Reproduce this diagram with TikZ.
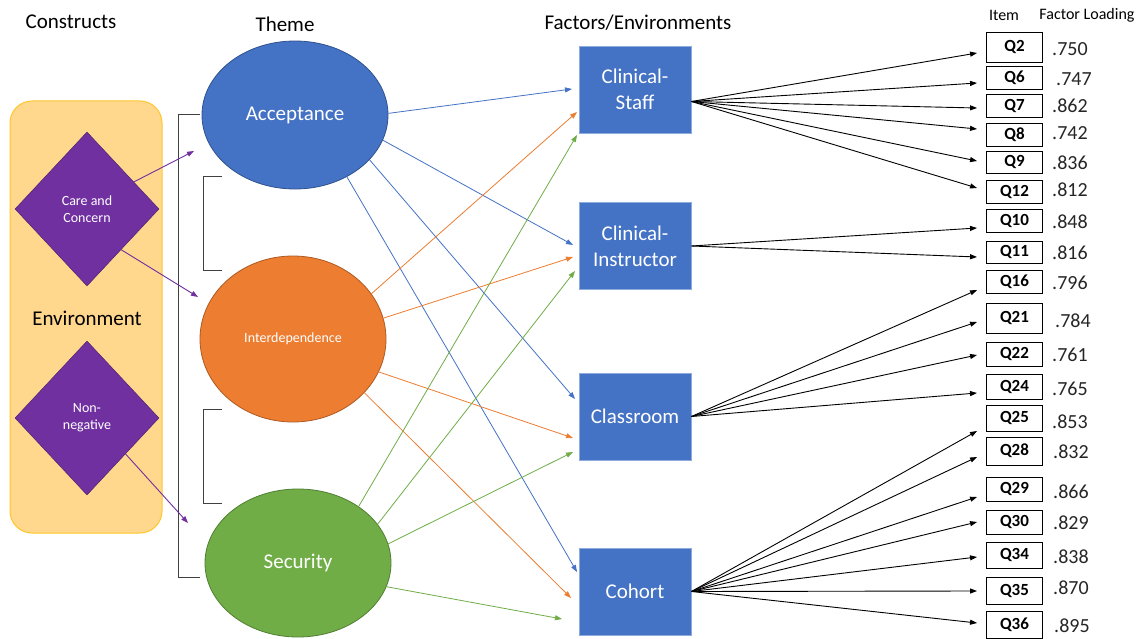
\documentclass[tikz,border=0pt]{standalone}
\usepackage{fontspec}
\setmainfont{Carlito}
\usetikzlibrary{shapes.geometric,arrows.meta,calc}
\definecolor{accblue}{HTML}{4472C4}
\definecolor{accblueD}{HTML}{2F528F}
\definecolor{boxedge}{HTML}{8FAADC}
\definecolor{accorange}{HTML}{ED7D31}
\definecolor{accorangeD}{HTML}{AE5A21}
\definecolor{accgreen}{HTML}{70AD47}
\definecolor{accgreenD}{HTML}{507E32}
\definecolor{cpurple}{HTML}{7030A0}
\definecolor{envfill}{HTML}{FFD88E}
\definecolor{envedge}{HTML}{FFC62A}
\definecolor{brk}{HTML}{404040}
\begin{document}
\begin{tikzpicture}[x=1pt,y=-1pt,
  >={Triangle[length=7pt,width=5pt]},
  heading/.style={inner sep=0, font=\fontsize{21}{25}\selectfont},
  theme/.style={ellipse, line width=0.8pt, text=white, minimum width=186, inner sep=0},
  factor/.style={rectangle, fill=accblue, draw=boxedge, line width=0.8pt, text=white, minimum width=112, minimum height=87, align=center, font=\fontsize{21}{26}\selectfont},
  construct/.style={diamond, aspect=1, fill=cpurple, draw=cpurple!70!black, line width=0.5pt, text=white, minimum width=144, minimum height=154, inner sep=0, align=center, font=\fontsize{14}{17}\selectfont},
  itembox/.style={rectangle, draw=black, line width=0.9pt, minimum width=56, inner sep=0, font=\bfseries\fontsize{17}{17}\selectfont},
  loading/.style={anchor=west, inner sep=0, font=\fontsize{20}{20}\selectfont, text=black!85},
  barrow/.style={->, accblue, line width=0.8pt},
  oarrow/.style={->, accorange, line width=0.8pt},
  garrow/.style={->, accgreen, line width=0.8pt},
  parrow/.style={->, cpurple, line width=0.9pt},
  karrow/.style={->, black, line width=0.9pt},
  bracket/.style={draw=brk, line width=0.9pt}
]
\useasboundingbox[fill=white] (0,0) rectangle (1146,639);

% headings
\node[heading] (hcon) at (71,22) {Constructs};
\node[heading] (hthe) at (285,24) {Theme};
\node[heading] (hfac) at (638,23) {Factors/Environments};
\node[inner sep=0, font=\fontsize{16}{16}\selectfont] (hitem) at (1004,15) {Item};
\node[inner sep=0, font=\fontsize{16}{16}\selectfont] (hfl) at (1087,15) {Factor Loading};

% environment panel
\node[draw=envedge, fill=envfill, line width=1pt, rounded corners=22pt, minimum width=152, minimum height=432] (env) at (86,317) {};
\node[heading] (envt) at (87,318) {Environment};
\node[construct] (care) at (87,209) {Care and\\Concern};
\node[construct] (nonneg) at (87,418) {Non-\\negative};

% brackets
\draw[bracket] (200,114) -- (178,114) -- (178,577) -- (200,577);
\draw[bracket] (222,176) -- (203,176) -- (203,270) -- (222,270);
\draw[bracket] (222,409) -- (203,409) -- (203,503) -- (222,503);

% themes
\node[theme, fill=accblue, draw=accblueD, minimum height=148, font=\fontsize{21}{25}\selectfont] (acc) at (295,115) {Acceptance};
\node[theme, fill=accorange, draw=accorangeD, minimum height=166, font=\fontsize{14}{17}\selectfont] (inter) at (293,339) {Interdependence};
\node[theme, fill=accgreen, draw=accgreenD, minimum height=148, font=\fontsize{21}{25}\selectfont] (sec) at (298,563) {Security};

% factors
\node[factor] (cs) at (635,89.5) {Clinical-\\Staff};
\node[factor] (ci) at (635,246) {Clinical-\\Instructor};
\node[factor] (cl) at (635,416.5) {Classroom};
\node[factor] (co) at (635,591.5) {Cohort};

% purple arrows
\coordinate (pe1) at (194,151);
\coordinate (pe2) at (198,297);
\coordinate (pe3) at (188,523);
\draw[parrow] (care.30) -- (pe1);
\draw[parrow] (care.-50) -- (pe2);
\draw[parrow] (nonneg.-43) -- (pe3);

% arrow end points near factors
\coordinate (csA) at (572,89);  \coordinate (csI) at (577,112); \coordinate (csS) at (577,135);
\coordinate (ciA) at (573,245); \coordinate (ciI) at (573,257); \coordinate (ciS) at (575,271);
\coordinate (clA) at (575,399); \coordinate (clI) at (573,438); \coordinate (clS) at (573,452);
\coordinate (coA) at (577,572); \coordinate (coI) at (571,598); \coordinate (coS) at (562,619);

\draw[barrow] (acc.1) -- (csA);
\draw[barrow] (acc.-16) -- (ciA);
\draw[barrow] (acc.-31) -- (clA);
\draw[barrow] (acc.-50) -- (coA);

\draw[oarrow] (inter.30) -- (csI);
\draw[oarrow] (inter.13) -- (ciI);
\draw[oarrow] (inter.-21) -- (clI);
\draw[oarrow] (inter.-37) -- (coI);

\draw[garrow] (sec.43) -- (csS);
\draw[garrow] (sec.26) -- (ciS);
\draw[garrow] (sec.12) -- (clS);
\draw[garrow] (sec.-15) -- (coS);

% items
\foreach \q/\cy/\h/\dy/\src/\val/\vx/\vy in {
  Q2/47/30/6/cs.-12/.750/1052/49,
  Q6/77.5/23/5.5/cs.-12/.747/1056/79,
  Q7/105.5/23/2.5/cs.-12/.862/1052/106,
  Q8/134.5/23/-5.5/cs.-12/.742/1052/133,
  Q9/162/22/-1/cs.-12/.836/1052/163,
  Q12/191.5/23/-3.5/cs.-12/.812/1052/190,
  Q10/220.5/23/7.5/ci.east/.848/1052/222,
  Q11/252/22/5/ci.east/.816/1052/253,
  Q16/281.5/23/8.5/cl.east/.796/1052/283,
  Q21/318/30/4/cl.east/.784/1055/321,
  Q22/354/24/1/cl.east/.761/1052/355,
  Q24/386.5/25/6.5/cl.east/.765/1052/389,
  Q25/418/26/13/co.east/.853/1052/422,
  Q28/451/28/6/co.east/.832/1053/452,
  Q29/489/24/8/co.east/.866/1053/492,
  Q30/522/24/0/co.east/.829/1053/523,
  Q34/555/26/2/co.east/.838/1053/557,
  Q35/590.5/27/0.5/co.east/.870/1053/588,
  Q36/624.5/27/-1.5/co.east/.895/1054/626}{
  \node[itembox, minimum height=\h] (\q) at (1014.5,\cy) {\q};
  \node[loading] (v\q) at (\vx,\vy) {\val};
  \draw[karrow] (\src) -- ($(\q.west)+(-9,\dy)$);
}
\end{tikzpicture}
\end{document}
